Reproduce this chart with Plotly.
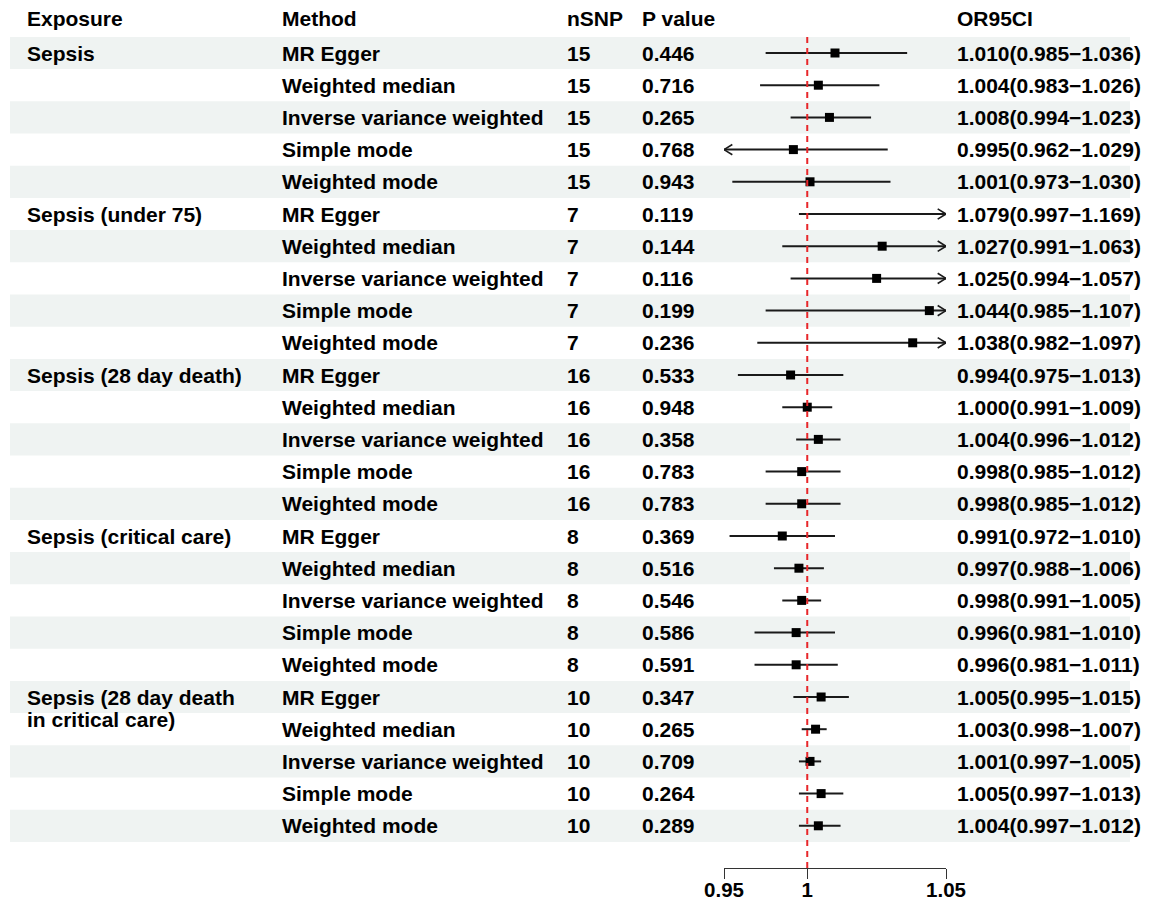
import plotly.graph_objects as go

# ---- data -------------------------------------------------------------
headers = ["Exposure", "Method", "nSNP", "P value", "OR95CI"]

exposures = [
    "Sepsis",
    "Sepsis (under 75)",
    "Sepsis (28 day death)",
    "Sepsis (critical care)",
    "Sepsis (28 day death\nin critical care)",
]
methods = [
    "MR Egger",
    "Weighted median",
    "Inverse variance weighted",
    "Simple mode",
    "Weighted mode",
]
n_snp = [15, 7, 16, 8, 10]

p_values = [
    0.446, 0.716, 0.265, 0.768, 0.943,
    0.119, 0.144, 0.116, 0.199, 0.236,
    0.533, 0.948, 0.358, 0.783, 0.783,
    0.369, 0.516, 0.546, 0.586, 0.591,
    0.347, 0.265, 0.709, 0.264, 0.289,
]
or_est = [
    1.010, 1.004, 1.008, 0.995, 1.001,
    1.079, 1.027, 1.025, 1.044, 1.038,
    0.994, 1.000, 1.004, 0.998, 0.998,
    0.991, 0.997, 0.998, 0.996, 0.996,
    1.005, 1.003, 1.001, 1.005, 1.004,
]
ci_low = [
    0.985, 0.983, 0.994, 0.962, 0.973,
    0.997, 0.991, 0.994, 0.985, 0.982,
    0.975, 0.991, 0.996, 0.985, 0.985,
    0.972, 0.988, 0.991, 0.981, 0.981,
    0.995, 0.998, 0.997, 0.997, 0.997,
]
ci_high = [
    1.036, 1.026, 1.023, 1.029, 1.030,
    1.169, 1.063, 1.057, 1.107, 1.097,
    1.013, 1.009, 1.012, 1.012, 1.012,
    1.010, 1.006, 1.005, 1.010, 1.011,
    1.015, 1.007, 1.005, 1.013, 1.012,
]

x_ticks = [0.97, 1, 1.05]
x_tick_labels = ["0.95", "1", "1.05"]
ref_value = 1

# ---- layout constants -------------------------------------------------
W, H = 1159, 900
X_MIN, X_MAX = 0.97, 1.05
FOREST_PX = (724, 946)
ROW0_PX, ROW_PX = 53, 32.2
HEADER_ROW = -1.08
AXIS_PX = 868
COL_PX = [25, 280, 565, 640, 955]
BAND_PX = (10, 1130)
FONT = dict(family="Liberation Sans, Arial, sans-serif", size=21, color="#000000", weight="bold")
TICK_FONT = dict(family="Liberation Sans, Arial, sans-serif", size=20.5, color="#000000", weight="bold")
BAND_FILL = "#eff3f2"
LINE_COL = "#1a1a1a"
ARROW_LEN = 0.003   # x units
ARROW_HALF = 0.16   # rows

n_rows = len(or_est)
y_top = -ROW0_PX / ROW_PX
y_bottom = (H - ROW0_PX) / ROW_PX


def row_to_paper(r):
    return 1 - (ROW0_PX + r * ROW_PX) / H


fig = go.Figure()

# CI segments clipped to the visible range, with open arrows where they run past it
seg_x, seg_y, arr_x, arr_y = [], [], [], []
for i in range(n_rows):
    lo = max(ci_low[i], X_MIN)
    hi = min(ci_high[i], X_MAX)
    seg_x += [lo, hi, None]
    seg_y += [i, i, None]
    if ci_low[i] < X_MIN:
        arr_x += [X_MIN + ARROW_LEN, X_MIN, X_MIN + ARROW_LEN, None]
        arr_y += [i - ARROW_HALF, i, i + ARROW_HALF, None]
    if ci_high[i] > X_MAX:
        arr_x += [X_MAX - ARROW_LEN, X_MAX, X_MAX - ARROW_LEN, None]
        arr_y += [i - ARROW_HALF, i, i + ARROW_HALF, None]

fig.add_trace(go.Scatter(x=seg_x, y=seg_y, mode="lines",
                         line=dict(color=LINE_COL, width=2), hoverinfo="skip"))
fig.add_trace(go.Scatter(x=arr_x, y=arr_y, mode="lines",
                         line=dict(color=LINE_COL, width=1.6), hoverinfo="skip"))
fig.add_trace(go.Scatter(x=or_est, y=list(range(n_rows)), mode="markers",
                         marker=dict(symbol="square", size=9, color="#000000",
                                     line=dict(width=0)),
                         cliponaxis=True))

shapes = []
# alternating row bands
for i in range(0, n_rows, 2):
    shapes.append(dict(type="rect", xref="paper", yref="y",
                       x0=BAND_PX[0] / W, x1=BAND_PX[1] / W, y0=i - 0.5, y1=i + 0.5,
                       fillcolor=BAND_FILL, line=dict(width=0), layer="below"))
# reference line
shapes.append(dict(type="line", xref="x", yref="paper", x0=ref_value, x1=ref_value,
                   y0=1 - AXIS_PX / H, y1=row_to_paper(-0.5),
                   line=dict(color="#e8262a", width=2, dash="6px,5px"), layer="above"))

annotations = []


def add_text(col, row, text):
    annotations.append(dict(xref="paper", yref="y", x=COL_PX[col] / W, y=row,
                            text=text, showarrow=False, xanchor="left", yanchor="middle",
                            font=FONT))


for c, h in enumerate(headers):
    add_text(c, HEADER_ROW, h)

for g, exp in enumerate(exposures):
    for k, line in enumerate(exp.split("\n")):
        add_text(0, g * len(methods) + k * 0.714, line)
    for m, meth in enumerate(methods):
        r = g * len(methods) + m
        add_text(1, r, meth)
        add_text(2, r, str(n_snp[g]))
        add_text(3, r, f"{p_values[r]:.3f}")
        add_text(4, r, f"{or_est[r]:.3f}({ci_low[r]:.3f}\u2212{ci_high[r]:.3f})")

fig.update_layout(
    template="none",
    width=W, height=H, autosize=False,
    margin=dict(l=0, r=0, t=0, b=0, pad=0),
    paper_bgcolor="white", plot_bgcolor="white",
    showlegend=False,
    shapes=shapes,
    annotations=annotations,
    xaxis=dict(domain=[FOREST_PX[0] / W, FOREST_PX[1] / W], range=[X_MIN, X_MAX],
               anchor="free", position=1 - AXIS_PX / H, automargin=False,
               showline=True, linecolor="#333333", linewidth=1,
               ticks="outside", ticklen=10, tickcolor="#333333", tickwidth=1,
               ticklabelstandoff=-7,
               tickvals=x_ticks, ticktext=x_tick_labels, tickfont=TICK_FONT,
               showgrid=False, zeroline=False, fixedrange=True),
    yaxis=dict(domain=[0, 1], range=[y_bottom, y_top], visible=False, automargin=False,
               showgrid=False, zeroline=False, fixedrange=True),
)

fig.write_html("out.html")
